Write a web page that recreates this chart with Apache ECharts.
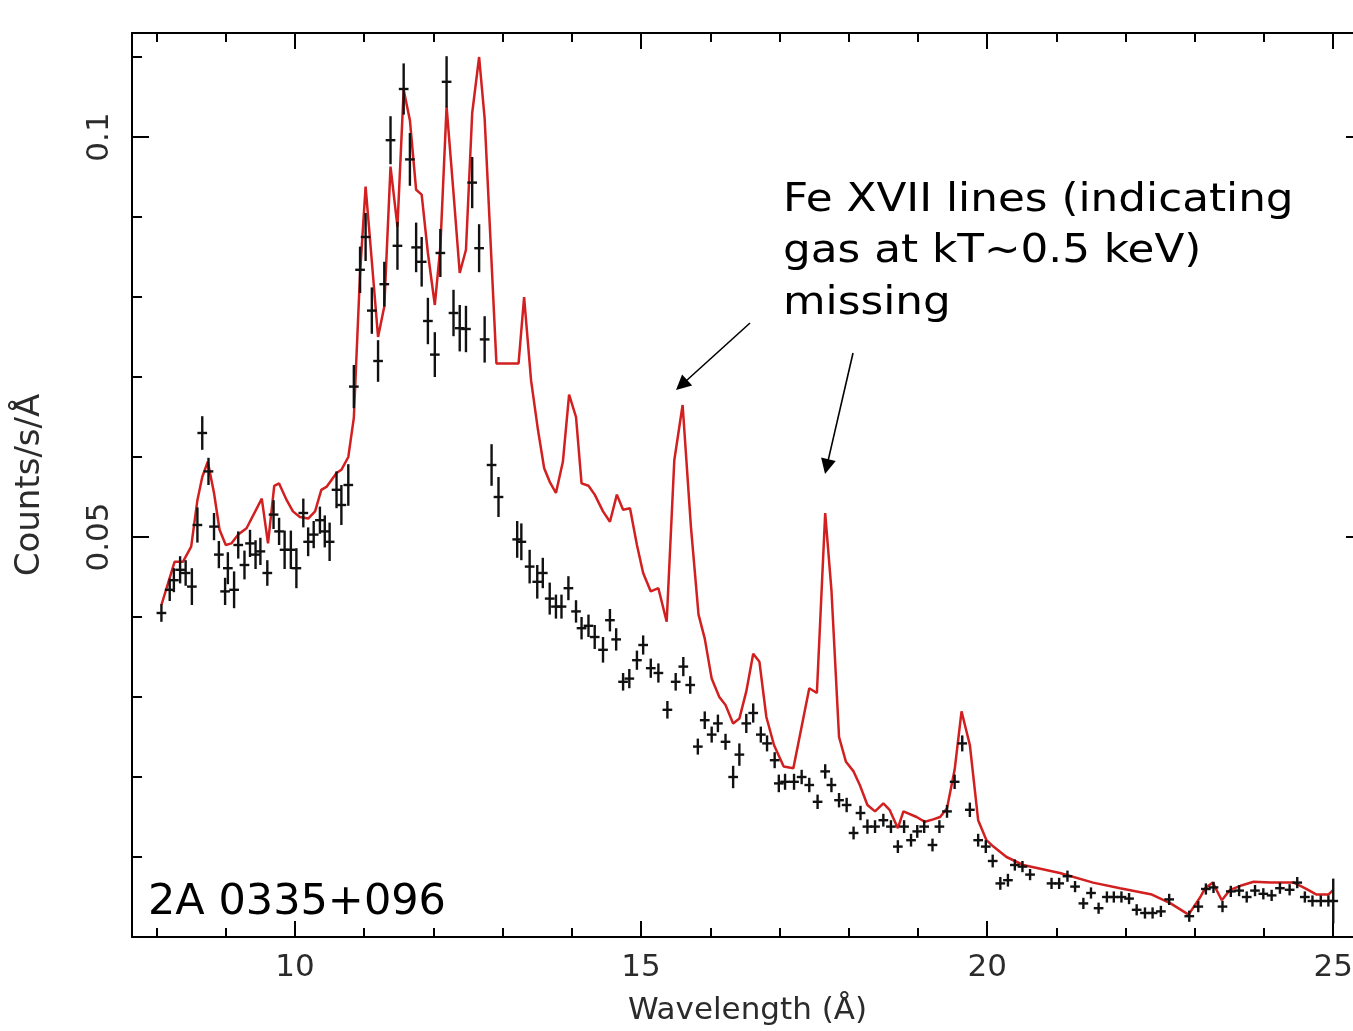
<!DOCTYPE html>
<html>
<head>
<meta charset="utf-8">
<script src="https://cdn.jsdelivr.net/npm/echarts@6/dist/echarts.min.js"></script>
<style>
  html, body { margin: 0; padding: 0; background: #fff; }
  #chart { width: 1353px; height: 1031px; }
</style>
</head>
<body>
<div id="chart"></div>
<script>
// Binned RGS spectrum (counts/s/Å) with 1-sigma errors
const wavelength = [
  8.07, 8.19, 8.25, 8.34, 8.42, 8.51, 8.59, 8.66, 8.75, 8.83,
  8.90, 8.99, 9.03, 9.12, 9.18, 9.27, 9.35, 9.43, 9.50, 9.60,
  9.69, 9.77, 9.85, 9.94, 10.02, 10.12, 10.19, 10.27, 10.36, 10.43,
  10.50, 10.60, 10.67, 10.77, 10.85, 10.94, 11.02, 11.11, 11.20, 11.29,
  11.38, 11.48, 11.57, 11.66, 11.75, 11.83, 11.92, 12.02, 12.10, 12.19,
  12.29, 12.38, 12.47, 12.56, 12.66, 12.74, 12.84, 12.94, 13.21, 13.27,
  13.39, 13.50, 13.58, 13.68, 13.77, 13.85, 13.95, 14.06, 14.14, 14.24,
  14.33, 14.45, 14.55, 14.64, 14.74, 14.83, 14.94, 15.03, 15.14, 15.25,
  15.38, 15.50, 15.61, 15.71, 15.82, 15.92, 16.02, 16.11, 16.22, 16.33,
  16.42, 16.52, 16.62, 16.73, 16.82, 16.93, 16.99, 17.08, 17.21, 17.32,
  17.43, 17.55, 17.66, 17.75, 17.86, 17.97, 18.07, 18.17, 18.27, 18.38,
  18.50, 18.61, 18.71, 18.80, 18.90, 18.99, 19.09, 19.21, 19.31, 19.42,
  19.53, 19.64, 19.75, 19.87, 19.98, 20.08, 20.19, 20.30, 20.40, 20.51,
  20.62, 20.93, 21.04, 21.16, 21.27, 21.39, 21.50, 21.61, 21.73, 21.83,
  21.94, 22.05, 22.16, 22.28, 22.39, 22.51, 22.63, 22.92, 23.05, 23.16,
  23.27, 23.40, 23.52, 23.64, 23.75, 23.87, 23.99, 24.11, 24.23, 24.37,
  24.48, 24.59, 24.70, 24.82, 24.93, 25.00
];
const counts = [
  0.0405, 0.0434, 0.0446, 0.0459, 0.0455, 0.0438, 0.0515, 0.0630, 0.0582, 0.0513,
  0.0478, 0.0432, 0.0461, 0.0434, 0.0490, 0.0465, 0.0492, 0.0478, 0.0482, 0.0455,
  0.0528, 0.0507, 0.0484, 0.0484, 0.0461, 0.0530, 0.0494, 0.0503, 0.0521, 0.0507,
  0.0494, 0.0559, 0.0540, 0.0565, 0.0688, 0.0834, 0.0875, 0.0783, 0.0720, 0.0816,
  0.0996, 0.0864, 0.1060, 0.0972, 0.0862, 0.0844, 0.0770, 0.0728, 0.0855, 0.1069,
  0.0780, 0.0761, 0.0760, 0.0943, 0.0861, 0.0747, 0.0590, 0.0550, 0.0497, 0.0494,
  0.0463, 0.0444, 0.0455, 0.0423, 0.0413, 0.0413, 0.0436, 0.0407, 0.0386, 0.0389,
  0.0375, 0.0359, 0.0396, 0.0372, 0.0319, 0.0323, 0.0346, 0.0365, 0.0336, 0.0330,
  0.0284, 0.0319, 0.0338, 0.0315, 0.0238, 0.0271, 0.0253, 0.0267, 0.0244, 0.0200,
  0.0228, 0.0267, 0.0280, 0.0253, 0.0242, 0.0221, 0.0192, 0.0194, 0.0194, 0.0200,
  0.0190, 0.0169, 0.0207, 0.0190, 0.0171, 0.0165, 0.0130, 0.0155, 0.0138, 0.0138,
  0.0146, 0.0138, 0.0113, 0.0138, 0.0121, 0.0132, 0.0138, 0.0115, 0.0138, 0.0157,
  0.0194, 0.0242, 0.0159, 0.0121, 0.0113, 0.0095, 0.0067, 0.0071, 0.0090, 0.0088,
  0.0078, 0.0067, 0.0067, 0.0076, 0.0063, 0.0042, 0.0055, 0.0036, 0.0050, 0.0050,
  0.0050, 0.0048, 0.0034, 0.0030, 0.0030, 0.0032, 0.0047, 0.0026, 0.0038, 0.0060,
  0.0062, 0.0038, 0.0057, 0.0058, 0.0050, 0.0058, 0.0054, 0.0052, 0.0061, 0.0059,
  0.0068, 0.0050, 0.0045, 0.0045, 0.0045, 0.0045
];
const countErr = [
  0.0011, 0.0014, 0.0015, 0.0017, 0.0016, 0.0023, 0.0022, 0.0021, 0.0017, 0.0017,
  0.0017, 0.0017, 0.0020, 0.0023, 0.0017, 0.0018, 0.0017, 0.0018, 0.0017, 0.0016,
  0.0018, 0.0017, 0.0024, 0.0024, 0.0025, 0.0018, 0.0018, 0.0017, 0.0017, 0.0020,
  0.0024, 0.0023, 0.0025, 0.0026, 0.0027, 0.0029, 0.0030, 0.0029, 0.0026, 0.0028,
  0.0030, 0.0030, 0.0032, 0.0033, 0.0031, 0.0031, 0.0029, 0.0028, 0.0030, 0.0032,
  0.0029, 0.0029, 0.0029, 0.0032, 0.0030, 0.0029, 0.0026, 0.0025, 0.0023, 0.0023,
  0.0021, 0.0021, 0.0019, 0.0020, 0.0015, 0.0015, 0.0015, 0.0014, 0.0014, 0.0014,
  0.0015, 0.0016, 0.0014, 0.0014, 0.0011, 0.0012, 0.0012, 0.0012, 0.0012, 0.0012,
  0.0011, 0.0011, 0.0012, 0.0011, 0.0010, 0.0011, 0.0010, 0.0011, 0.0010, 0.0014,
  0.0014, 0.0012, 0.0012, 0.0010, 0.0010, 0.0010, 0.0011, 0.0010, 0.0010, 0.0009,
  0.0009, 0.0009, 0.0009, 0.0009, 0.0009, 0.0009, 0.0008, 0.0009, 0.0009, 0.0008,
  0.0008, 0.0008, 0.0008, 0.0008, 0.0008, 0.0008, 0.0008, 0.0008, 0.0008, 0.0008,
  0.0009, 0.0010, 0.0009, 0.0008, 0.0008, 0.0008, 0.0008, 0.0008, 0.0007, 0.0007,
  0.0007, 0.0007, 0.0007, 0.0007, 0.0007, 0.0007, 0.0007, 0.0007, 0.0007, 0.0007,
  0.0007, 0.0007, 0.0007, 0.0007, 0.0007, 0.0007, 0.0007, 0.0007, 0.0007, 0.0007,
  0.0007, 0.0007, 0.0007, 0.0007, 0.0007, 0.0007, 0.0007, 0.0007, 0.0007, 0.0007,
  0.0007, 0.0007, 0.0007, 0.0007, 0.0007, 0.0028
];

// Single-temperature cooling-flow model folded through the response
const modelWave = [
  8.07, 8.26, 8.38, 8.50, 8.59, 8.66, 8.74, 8.83, 8.91, 9.00,
  9.08, 9.18, 9.30, 9.52, 9.61, 9.70, 9.77, 9.88, 9.97, 10.07,
  10.19, 10.29, 10.38, 10.46, 10.60, 10.67, 10.77, 10.85, 10.94, 11.02,
  11.10, 11.20, 11.29, 11.38, 11.48, 11.57, 11.66, 11.75, 11.83, 11.92,
  12.02, 12.10, 12.19, 12.29, 12.38, 12.47, 12.56, 12.66, 12.74, 12.91,
  13.23, 13.31, 13.41, 13.51, 13.60, 13.68, 13.77, 13.87, 13.96, 14.06,
  14.14, 14.24, 14.33, 14.45, 14.55, 14.65, 14.74, 14.84, 14.94, 15.03,
  15.14, 15.25, 15.37, 15.48, 15.60, 15.72, 15.83, 15.92, 16.02, 16.13,
  16.22, 16.33, 16.42, 16.52, 16.62, 16.71, 16.81, 16.92, 17.06, 17.20,
  17.43, 17.54, 17.66, 17.75, 17.86, 17.96, 18.07, 18.16, 18.27,
  18.38, 18.50, 18.59, 18.71, 18.79, 18.98, 19.10, 19.22, 19.32, 19.42,
  19.53, 19.63, 19.75, 19.87, 19.99, 20.09, 20.28, 20.52, 21.05, 21.53,
  21.92, 22.38, 22.65, 22.91, 23.08, 23.15, 23.26, 23.39, 23.51, 23.66,
  23.85, 24.09, 24.43, 24.59, 24.76, 24.93, 25.00
];
const modelCounts = [
  0.0415, 0.0469, 0.0469, 0.0488, 0.0546, 0.0575, 0.0594, 0.0555, 0.0509, 0.0490,
  0.0492, 0.0503, 0.0511, 0.0548, 0.0492, 0.0564, 0.0567, 0.0546, 0.0532, 0.0525,
  0.0523, 0.0532, 0.0559, 0.0563, 0.0580, 0.0584, 0.0600, 0.0649, 0.0830, 0.0938,
  0.0855, 0.0750, 0.0788, 0.0963, 0.0888, 0.1059, 0.1021, 0.0934, 0.0928, 0.0855,
  0.0790, 0.0863, 0.1038, 0.0930, 0.0830, 0.0859, 0.1030, 0.1100, 0.1023, 0.0717,
  0.0717, 0.0800, 0.0696, 0.0634, 0.0586, 0.0569, 0.0555, 0.0594, 0.0678, 0.0650,
  0.0567, 0.0564, 0.0553, 0.0532, 0.0519, 0.0553, 0.0534, 0.0536, 0.0490, 0.0455,
  0.0432, 0.0436, 0.0394, 0.0596, 0.0665, 0.0513, 0.0403, 0.0373, 0.0323, 0.0300,
  0.0290, 0.0267, 0.0273, 0.0307, 0.0354, 0.0344, 0.0275, 0.0240, 0.0213, 0.0211,
  0.0311, 0.0305, 0.0530, 0.0434, 0.0250, 0.0219, 0.0207, 0.0190, 0.0165,
  0.0157, 0.0167, 0.0159, 0.0136, 0.0157, 0.0150, 0.0144, 0.0147, 0.0150, 0.0161,
  0.0209, 0.0282, 0.0240, 0.0146, 0.0121, 0.0113, 0.0100, 0.0090, 0.0080, 0.0068,
  0.0061, 0.0053, 0.0042, 0.0028, 0.0050, 0.0061, 0.0068, 0.0046, 0.0059, 0.0064,
  0.0069, 0.0068, 0.0068, 0.0061, 0.0053, 0.0053, 0.0059
];

// Axis ticks
const xMajorTicks = [10, 15, 20, 25];
const xMinorTicks = [8, 9, 11, 12, 13, 14, 16, 17, 18, 19, 21, 22, 23, 24];
const yMajorTicks = [0.05, 0.1];
const yMinorTicks = [0.01, 0.02, 0.03, 0.04, 0.06, 0.07, 0.08, 0.09, 0.11];

// Annotation arrows pointing at the missing Fe XVII lines: [from, to] in (Å, counts)
const feArrows = [
  [[16.574, 0.07675], [15.585, 0.0690]],
  [[18.062, 0.0730], [17.682, 0.0588]]
];

const X_MIN = 7.645, X_MAX = 25.43;
const Y_MIN = 0, Y_MAX = 0.113;
const HALF_BIN = 0.07;
const FONT = '"DejaVu Sans", "Liberation Sans", sans-serif';
const INK = '#000';

// The frame's right edge sits just past the canvas, as in the original plot
const gridBox = { left: 132, top: 33, width: 1231, height: 904,
                  containLabel: false, outerBoundsMode: 'none' };

function tickAxis(kind, gridIndex, position, ticks, len, showLine, extra) {
  const isX = kind === 'x';
  return Object.assign({
    type: 'value',
    gridIndex: gridIndex,
    position: position,
    min: isX ? X_MIN : Y_MIN,
    max: isX ? X_MAX : Y_MAX,
    axisLine: { show: showLine, onZero: false, lineStyle: { color: INK, width: 2 } },
    axisTick: { show: true, inside: true, length: len, customValues: ticks,
                lineStyle: { color: INK, width: 2 } },
    axisLabel: { show: false },
    splitLine: { show: false },
    minorTick: { show: false }
  }, extra || {});
}

const chart = echarts.init(document.getElementById('chart'), null, { renderer: 'canvas' });

chart.setOption({
  animation: false,
  backgroundColor: '#ffffff',
  grid: [Object.assign({}, gridBox), Object.assign({}, gridBox)],
  xAxis: [
    tickAxis('x', 0, 'bottom', xMajorTicks, 16, true, {
      name: 'Wavelength (Å)',
      nameLocation: 'middle',
      nameGap: 58,
      nameTextStyle: { fontFamily: FONT, fontSize: 31, color: '#2b2b2b' },
      axisLabel: { show: true, customValues: xMajorTicks, margin: 15,
                   fontFamily: FONT, fontSize: 31, color: '#2b2b2b' }
    }),
    tickAxis('x', 0, 'top', xMajorTicks, 16, true),
    tickAxis('x', 1, 'bottom', xMinorTicks, 9, false),
    tickAxis('x', 1, 'top', xMinorTicks, 9, false)
  ],
  yAxis: [
    tickAxis('y', 0, 'left', yMajorTicks, 17, true, {
      name: 'Counts/s/Å',
      nameLocation: 'middle',
      nameRotate: 90,
      nameGap: 85,
      nameTextStyle: { fontFamily: FONT, fontSize: 34, color: '#2b2b2b' },
      axisLabel: { show: true, customValues: yMajorTicks, rotate: 90, margin: 17,
                   fontFamily: FONT, fontSize: 31, color: '#2b2b2b',
                   formatter: v => String(v) }
    }),
    tickAxis('y', 0, 'right', yMajorTicks, 17, false),
    tickAxis('y', 1, 'left', yMinorTicks, 10, false),
    tickAxis('y', 1, 'right', yMinorTicks, 10, false)
  ],
  series: [
    {
      name: 'model',
      type: 'line',
      xAxisIndex: 0,
      yAxisIndex: 0,
      data: modelWave.map((w, i) => [w, modelCounts[i]]),
      showSymbol: false,
      symbol: 'none',
      lineStyle: { color: '#d21f1f', width: 2.5 },
      z: 3,
      silent: true,
      markLine: {
        silent: true,
        symbol: ['none', 'triangle'],
        symbolSize: 15,
        label: { show: false },
        lineStyle: { color: INK, width: 1.6, type: 'solid' },
        itemStyle: { color: INK },
        emphasis: { disabled: true },
        data: feArrows.map(a => [{ coord: a[0] }, { coord: a[1] }])
      }
    },
    {
      name: 'data',
      type: 'custom',
      xAxisIndex: 0,
      yAxisIndex: 0,
      z: 4,
      silent: true,
      data: wavelength.map((w, i) => [w, counts[i], countErr[i]]),
      encode: { x: 0, y: 1 },
      renderItem: function (params, api) {
        const x = api.value(0), y = api.value(1), e = api.value(2);
        const l = api.coord([x - HALF_BIN, y]);
        const r = api.coord([x + HALF_BIN, y]);
        const t = api.coord([x, y + e]);
        const b = api.coord([x, y - e]);
        const st = { stroke: '#111', lineWidth: 2.4 };
        return {
          type: 'group',
          children: [
            { type: 'line', shape: { x1: l[0], y1: l[1], x2: r[0], y2: r[1] }, style: st },
            { type: 'line', shape: { x1: t[0], y1: t[1], x2: b[0], y2: b[1] }, style: st }
          ]
        };
      }
    }
  ],
  graphic: [
    { type: 'text', x: 783, y: 200.5, scaleX: 1.12, silent: true,
      style: { text: 'Fe XVII lines (indicating', fontFamily: FONT, fontSize: 39,
               fill: INK, verticalAlign: 'middle', align: 'left' } },
    { type: 'text', x: 783, y: 252, scaleX: 1.12, silent: true,
      style: { text: 'gas at kT~0.5 keV)', fontFamily: FONT, fontSize: 39,
               fill: INK, verticalAlign: 'middle', align: 'left' } },
    { type: 'text', x: 783, y: 303.5, scaleX: 1.12, silent: true,
      style: { text: 'missing', fontFamily: FONT, fontSize: 39,
               fill: INK, verticalAlign: 'middle', align: 'left' } },
    { type: 'text', x: 148, y: 903, silent: true,
      style: { text: '2A 0335+096', fontFamily: FONT, fontSize: 43,
               fill: INK, verticalAlign: 'middle', align: 'left' } }
  ]
});
</script>
</body>
</html>
